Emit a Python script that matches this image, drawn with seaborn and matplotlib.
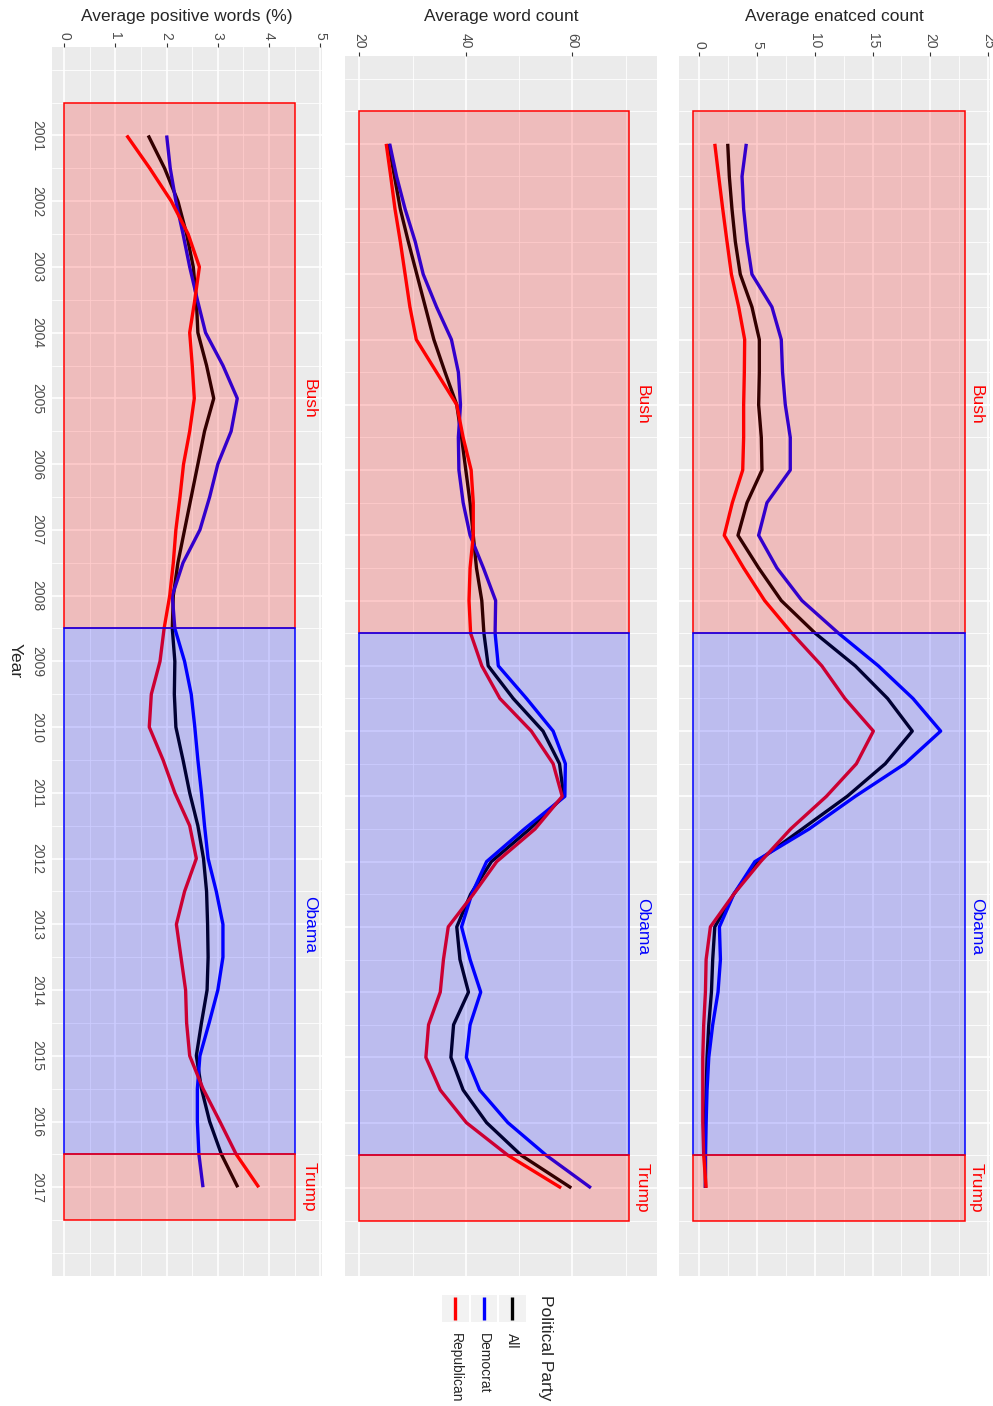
import numpy as np
import pandas as pd
import seaborn as sns
import matplotlib.pyplot as plt
from matplotlib.colors import to_rgb
from matplotlib.patches import Rectangle

# half-year sample points along the smoothed curves, 2001 .. 2017
years = np.arange(2001, 2017.5, 0.5)

# Average positive words (%)
pos_all = [1.64, 1.96, 2.22, 2.39, 2.52, 2.58, 2.61, 2.78, 2.92, 2.74, 2.61, 2.48, 2.35, 2.22, 2.13, 2.11,
           2.16, 2.15, 2.18, 2.32, 2.45, 2.61, 2.72, 2.78, 2.80, 2.81, 2.79, 2.68, 2.58, 2.68, 2.84, 3.07, 3.39]
pos_dem = [2.00, 2.07, 2.18, 2.32, 2.45, 2.60, 2.76, 3.10, 3.38, 3.26, 3.00, 2.84, 2.65, 2.32, 2.11, 2.16,
           2.35, 2.48, 2.55, 2.61, 2.68, 2.74, 2.81, 2.97, 3.10, 3.10, 3.00, 2.83, 2.65, 2.60, 2.60, 2.63, 2.71]
pos_rep = [1.22, 1.67, 2.09, 2.42, 2.64, 2.55, 2.45, 2.50, 2.54, 2.45, 2.33, 2.26, 2.18, 2.13, 2.06, 1.95,
           1.87, 1.70, 1.66, 1.93, 2.16, 2.45, 2.58, 2.35, 2.19, 2.28, 2.37, 2.39, 2.45, 2.71, 3.04, 3.36, 3.80]

# Average word count
wc_all = [25.5, 26.6, 27.7, 29.2, 30.8, 32.4, 34.0, 36.1, 38.3, 39.2, 40.0, 40.8, 41.4, 42.0, 43.0, 43.4,
          44.2, 48.9, 54.5, 57.6, 58.4, 52.0, 44.8, 40.9, 38.3, 38.9, 40.5, 37.7, 37.2, 39.5, 43.9, 50.4, 59.8]
wc_dem = [25.7, 27.0, 28.6, 30.5, 32.0, 34.5, 37.3, 38.6, 39.0, 38.6, 38.7, 39.5, 40.8, 43.3, 45.6, 45.5,
          46.1, 51.4, 56.4, 58.7, 58.6, 51.0, 43.9, 41.1, 39.2, 40.8, 42.8, 40.8, 40.1, 42.6, 47.9, 55.1, 63.5]
wc_rep = [25.05, 25.9, 26.7, 27.7, 28.6, 29.5, 30.7, 34.5, 38.3, 39.5, 41.0, 41.4, 41.4, 40.8, 40.6, 40.9,
          43.0, 46.4, 52.3, 56.4, 58.1, 53.0, 45.8, 41.4, 36.7, 35.8, 35.2, 33.0, 32.5, 35.2, 40.1, 47.9, 57.9]

# Average enacted count
en_all = [2.45, 2.59, 2.82, 3.11, 3.54, 4.55, 5.19, 5.19, 5.13, 5.36, 5.42, 4.12, 3.34, 5.13, 7.09, 10.03,
          13.5, 16.3, 18.44, 16.1, 12.8, 8.9, 5.0, 2.97, 1.33, 1.15, 1.04, 0.81, 0.66, 0.58, 0.52, 0.52, 0.52]
en_dem = [4.06, 3.69, 3.83, 4.12, 4.55, 6.28, 7.09, 7.20, 7.44, 7.87, 7.87, 5.85, 5.13, 6.71, 8.88, 12.05,
          15.5, 18.5, 20.9, 17.8, 13.5, 9.5, 4.8, 2.97, 1.73, 1.82, 1.61, 1.15, 0.81, 0.66, 0.58, 0.52, 0.52]
en_rep = [1.33, 1.67, 2.02, 2.39, 2.77, 3.40, 3.92, 3.89, 3.83, 3.83, 3.75, 2.85, 2.15, 3.83, 5.65, 8.01,
          10.6, 12.6, 15.07, 13.6, 11.0, 7.9, 5.3, 2.97, 0.95, 0.58, 0.52, 0.37, 0.29, 0.29, 0.29, 0.37, 0.58]

parties = ["All", "Democrat", "Republican"]
party_colors = {"All": "black", "Democrat": "#0000FF", "Republican": "#FF0000"}

presidents = ["Bush", "Obama", "Trump"]
term_start = [2000.5, 2008.5, 2016.5]
term_end = [2008.5, 2016.5, 2017.5]
term_color = ["#FF0000", "#0000FF", "#FF0000"]
label_year = [2005, 2013, 2017]

titles = ["Average positive words (%)", "Average word count", "Average enatced count"]
series = [(pos_all, pos_dem, pos_rep), (wc_all, wc_dem, wc_rep), (en_all, en_dem, en_rep)]
rect_lo = [0, 20, -0.54]
rect_hi = [4.5, 70.6, 23.0]
label_val = [4.79, 73.2, 24.0]
val_lims = [(-0.235, 5.03), (17.31, 75.85), (-1.77, 25.2)]
major_ticks = [[0, 1, 2, 3, 4, 5], [20, 40, 60], [0, 5, 10, 15, 20, 25]]
minor_ticks = [[0.5, 1.5, 2.5, 3.5, 4.5], [30, 50, 70], [2.5, 7.5, 12.5, 17.5, 22.5]]

year_major = list(range(2001, 2018))
year_minor = [y + 0.5 for y in range(2000, 2018)] + [2000, 2018]

sns.set_style("darkgrid", {"axes.facecolor": "#EBEBEB", "grid.color": "white"})
plt.rcParams["font.family"] = ["Liberation Sans", "DejaVu Sans"]

W, H = 993, 1406
fig = plt.figure(figsize=(W / 100, H / 100), dpi=100)

# panel boxes in pixels: left, top, right, bottom
boxes = [(52.3, 46.7, 321.7, 1276), (345, 55.7, 656.7, 1276), (679, 55.7, 990.3, 1276)]

for i in range(3):
    l, t, r, b = boxes[i]
    ax = fig.add_axes([l / W, 1 - b / H, (r - l) / W, (b - t) / H])
    ax.set_facecolor("#EBEBEB")
    for s in ax.spines.values():
        s.set_visible(False)

    a, d, rp = series[i]
    df = pd.DataFrame({
        "Year": np.tile(years, 3),
        "value": list(a) + list(d) + list(rp),
        "party": np.repeat(parties, len(years)),
    })
    sns.lineplot(data=df, x="value", y="Year", hue="party", hue_order=parties,
                 palette=party_colors, orient="y", estimator=None, sort=True,
                 linewidth=2.4, legend=False, ax=ax, zorder=2,
                 solid_joinstyle="round", solid_capstyle="butt")

    # presidency bands on top of the curves, as in the original
    for k in range(3):
        ax.add_patch(Rectangle((rect_lo[i], term_start[k]), rect_hi[i] - rect_lo[i],
                               term_end[k] - term_start[k],
                               facecolor=(*to_rgb(term_color[k]), 0.2),
                               edgecolor=term_color[k], linewidth=1.1, zorder=3))
        ax.text(label_val[i], label_year[k], presidents[k], rotation=-90, color=term_color[k],
                ha="center", va="center", fontsize=12.5, zorder=5)

    ax.set_xlim(*val_lims[i])
    ax.set_ylim(2018.35, 1999.65)
    ax.set_xticks(major_ticks[i])
    ax.set_xticks(minor_ticks[i], minor=True)
    ax.set_yticks(year_major)
    ax.set_yticks(year_minor, minor=True)
    ax.grid(which="major", color="white", linewidth=1.2)
    ax.grid(which="minor", color="white", linewidth=0.6)
    ax.set_axisbelow(True)
    ax.set_xlabel("")
    ax.set_ylabel("")

    ax.xaxis.set_ticks_position("top")
    ax.tick_params(axis="x", which="major", length=3.1, width=0.8, color="#333333",
                   labelsize=10, labelcolor="#4D4D4D", pad=2.0)
    ax.tick_params(axis="both", which="minor", length=0)
    for lbl in ax.get_xticklabels():
        lbl.set_rotation(-90)
        lbl.set_va("bottom")
        lbl.set_ha("center")

    if i == 0:
        ax.tick_params(axis="y", which="major", length=3.1, width=0.8, color="#333333",
                       labelsize=10, labelcolor="#4D4D4D", pad=2.5)
        for lbl in ax.get_yticklabels():
            lbl.set_rotation(-90)
            lbl.set_va("center")
            lbl.set_ha("right")
    else:
        ax.tick_params(axis="y", which="major", length=0, labelleft=False)

    fig.text((l + r) / 2 / W, 1 - 16 / H, titles[i], ha="center", va="center", fontsize=12.5)

fig.text(15 / W, 1 - 661 / H, "Year", rotation=-90, ha="center", va="center", fontsize=12.5)

# legend, drawn rotated like the rest of the chart
lg = fig.add_axes([441.7 / W, 1 - 1322 / H, 85.3 / W, 27 / H])
lg.set_xlim(0, 3)
lg.set_ylim(0, 1)
lg.axis("off")
legend_order = ["Republican", "Democrat", "All"]
for j, name in enumerate(legend_order):
    lg.add_patch(Rectangle((j + 0.02, 0), 0.93, 1, facecolor="#F2F2F2", edgecolor="none"))
    lg.plot([j + 0.485, j + 0.485], [0.08, 0.92], color=party_colors[name], linewidth=2.4,
            solid_capstyle="butt")
    fig.text((441.7 + (j + 0.485) * 85.3 / 3) / W, 1 - 1333 / H, name, rotation=-90,
             ha="center", va="top", fontsize=10)
fig.text(545 / W, 1 - 1295 / H, "Political Party", rotation=-90, ha="center", va="top",
         fontsize=12.5)

fig.savefig("out.png", dpi=100)
